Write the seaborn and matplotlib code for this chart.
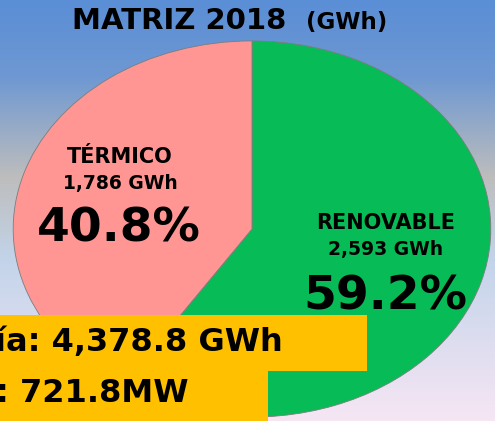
import numpy as np
import matplotlib
matplotlib.use("Agg")
import matplotlib.pyplot as plt
from matplotlib.colors import LinearSegmentedColormap
import seaborn as sns

sns.set_style("white")
plt.rcParams['font.family'] = ['DejaVu Sans']
plt.rcParams['text.color'] = 'black'

# data
categories = ["RENOVABLE", "TÉRMICO"]
gwh_values = [2593, 1786]
gwh_labels = ["2,593 GWh", "1,786 GWh"]
pct_labels = ["59.2%", "40.8%"]
slice_colors = ["#07BC57", "#FF9694"]
title_main = "MATRIZ 2018"
title_unit = "(GWh)"
box_texts = ["ía: 4,378.8 GWh", ": 721.8MW"]

W, H = 495, 421
fig = plt.figure(figsize=(W / 100, H / 100), dpi=100)

def fx(px):
    return px / W

def fy(py):
    return 1 - py / H

# background gradient
bg = fig.add_axes([0, 0, 1, 1], zorder=0)
cmap = LinearSegmentedColormap.from_list(
    "bg", [(0, "#5A8ED6"), (0.18, "#6E98D2"), (0.42, "#BDBDBD"),
           (0.62, "#C3D4EA"), (1.0, "#F6E6F4")])
bg.imshow(np.linspace(0, 1, 256).reshape(-1, 1), aspect="auto", cmap=cmap,
          extent=[0, 1, 0, 1])
bg.set_axis_off()

# pie, stretched to an ellipse
cx, cy, rx, ry = 252, 229, 240, 189
ax = fig.add_axes([fx(cx - rx), fy(cy + ry), 2 * rx / W, 2 * ry / H], zorder=1)
ax.pie(gwh_values, colors=slice_colors, startangle=90, counterclock=False,
       wedgeprops=dict(edgecolor="#7d7d7d", linewidth=0.6))
ax.set_aspect("auto")
ax.set_xlim(-1.005, 1.005)
ax.set_ylim(-1.005, 1.005)
ax.set_axis_off()

# title
fig.text(fx(72), fy(21), title_main, fontsize=21, fontweight="bold",
         va="center", ha="left", zorder=5)
fig.text(fx(306), fy(23), title_unit, fontsize=16.5, fontweight="bold",
         va="center", ha="left", zorder=5)

# slice labels
fig.text(fx(386), fy(223), categories[0], fontsize=15, fontweight="heavy",
         ha="center", va="center", zorder=5)
fig.text(fx(386), fy(250), gwh_labels[0], fontsize=13.5, fontweight="heavy",
         ha="center", va="center", zorder=5)
fig.text(fx(385), fy(297), pct_labels[0], fontsize=34, fontweight="heavy",
         ha="center", va="center", zorder=5)

fig.text(fx(120), fy(157), categories[1], fontsize=15, fontweight="heavy",
         ha="center", va="center", zorder=5)
fig.text(fx(120), fy(184), gwh_labels[1], fontsize=13.5, fontweight="heavy",
         ha="center", va="center", zorder=5)
fig.text(fx(119), fy(229), pct_labels[1], fontsize=34, fontweight="heavy",
         ha="center", va="center", zorder=5)

# orange boxes at the bottom
ov = fig.add_axes([0, 0, 1, 1], zorder=4)
ov.set_xlim(0, W)
ov.set_ylim(H, 0)
ov.set_axis_off()
ov.patch.set_alpha(0)
ov.add_patch(plt.Rectangle((0, 315), 367, 56, color="#FFC000", lw=0))
ov.add_patch(plt.Rectangle((0, 370), 268, 51, color="#FFC000", lw=0))
ov.text(-5, 342, box_texts[0], fontsize=23, fontweight="bold",
        ha="left", va="center", zorder=6)
ov.text(-4, 394, box_texts[1], fontsize=23, fontweight="bold",
        ha="left", va="center", zorder=6)

fig.savefig("out.png", dpi=100)
